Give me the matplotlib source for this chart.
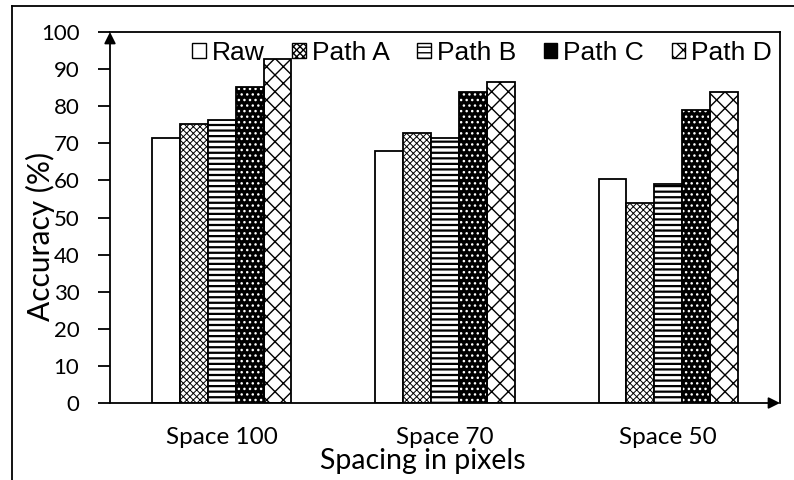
import matplotlib
matplotlib.use("Agg")
import matplotlib.pyplot as plt
from matplotlib.patches import Patch
from matplotlib.lines import Line2D
import numpy as np

categories = ["Space 100", "Space 70", "Space 50"]
series = ["Raw", "Path A", "Path B", "Path C", "Path D"]
raw = [71.3, 67.8, 60.3]
path_a = [75.2, 72.7, 53.8]
path_b = [76.3, 71.3, 58.9]
path_c = [85.1, 83.7, 79.0]
path_d = [92.6, 86.4, 83.7]
values = [raw, path_a, path_b, path_c, path_d]
yticks = [0, 10, 20, 30, 40, 50, 60, 70, 80, 90, 100]

hatches = [None, "xxxxx", "---", "...", "xx"]
hatch_lw = [1.0, 0.7, 1.6, 1.0, 1.0]

fig = plt.figure(figsize=(7.94, 4.8), dpi=100)
ax = fig.add_axes([110 / 794, 77 / 480, 670 / 794, 371 / 480])

x = np.arange(len(categories))
w = 0.125
for i, (name, vals) in enumerate(zip(series, values)):
    pos = x + (i - 2) * w
    with plt.rc_context({"hatch.linewidth": hatch_lw[i]}):
        if name == "Path C":
            ax.bar(pos, vals, w, color="black", edgecolor="white", hatch=hatches[i], lw=0, zorder=2)
            ax.bar(pos, vals, w, fill=False, edgecolor="black", lw=1.3, zorder=3)
        else:
            ax.bar(pos, vals, w, facecolor="white", edgecolor="black", hatch=hatches[i], lw=1.3, zorder=2)

ax.set_xlim(-0.5, 2.5)
ax.set_ylim(0, 100)
ax.set_yticks(yticks)
ax.set_yticklabels([str(t) for t in yticks])
ax.set_xticks(x)
ax.set_xticklabels(categories)
ax.tick_params(axis="x", length=0, pad=17.5, labelsize=17.5, labelfontfamily="Lato")
ax.tick_params(axis="y", length=9, width=1.3, direction="out", pad=13, labelsize=16, labelfontfamily="Lato")

for s in ["left", "bottom"]:
    ax.spines[s].set_visible(False)
ax.spines["top"].set_linewidth(1.3)
ax.spines["right"].set_linewidth(1.3)
ax.annotate("", xy=(0, 1), xytext=(0, 0), xycoords="axes fraction",
            arrowprops=dict(arrowstyle="-|>", color="black", lw=1.3, mutation_scale=17, shrinkA=0, shrinkB=0))
ax.annotate("", xy=(1, 0), xytext=(0, 0), xycoords="axes fraction",
            arrowprops=dict(arrowstyle="-|>", color="black", lw=1.3, mutation_scale=17, shrinkA=0, shrinkB=0))

ax.set_ylabel("Accuracy (%)", fontfamily="Lato", fontsize=21.5)
ax.yaxis.set_label_coords(-0.082, 0.45)
ax.set_xlabel("Spacing in pixels", fontfamily="Lato", fontsize=20.5)
ax.xaxis.set_label_coords(0.467, -0.12)

handles = []
for i, name in enumerate(series):
    if name == "Path C":
        handles.append(Patch(facecolor="black", edgecolor="black", lw=1))
    else:
        handles.append(Patch(facecolor="white", edgecolor="black", hatch=hatches[i], lw=1))
leg = ax.legend(handles, series, loc="upper right", bbox_to_anchor=((772 - 110) / 670, 0.976), ncol=5, frameon=False,
                prop={"family": "Liberation Sans", "size": 19}, handlelength=0.52, handleheight=0.45,
                handletextpad=0.22, columnspacing=1.05, borderaxespad=0, borderpad=0)

fig.add_artist(Line2D([12 / 794, 12 / 794], [0, 474 / 480], color="black", lw=1.3))
fig.add_artist(Line2D([12 / 794, 1], [474 / 480, 474 / 480], color="black", lw=1.3))

fig.savefig("out.png", dpi=100)
